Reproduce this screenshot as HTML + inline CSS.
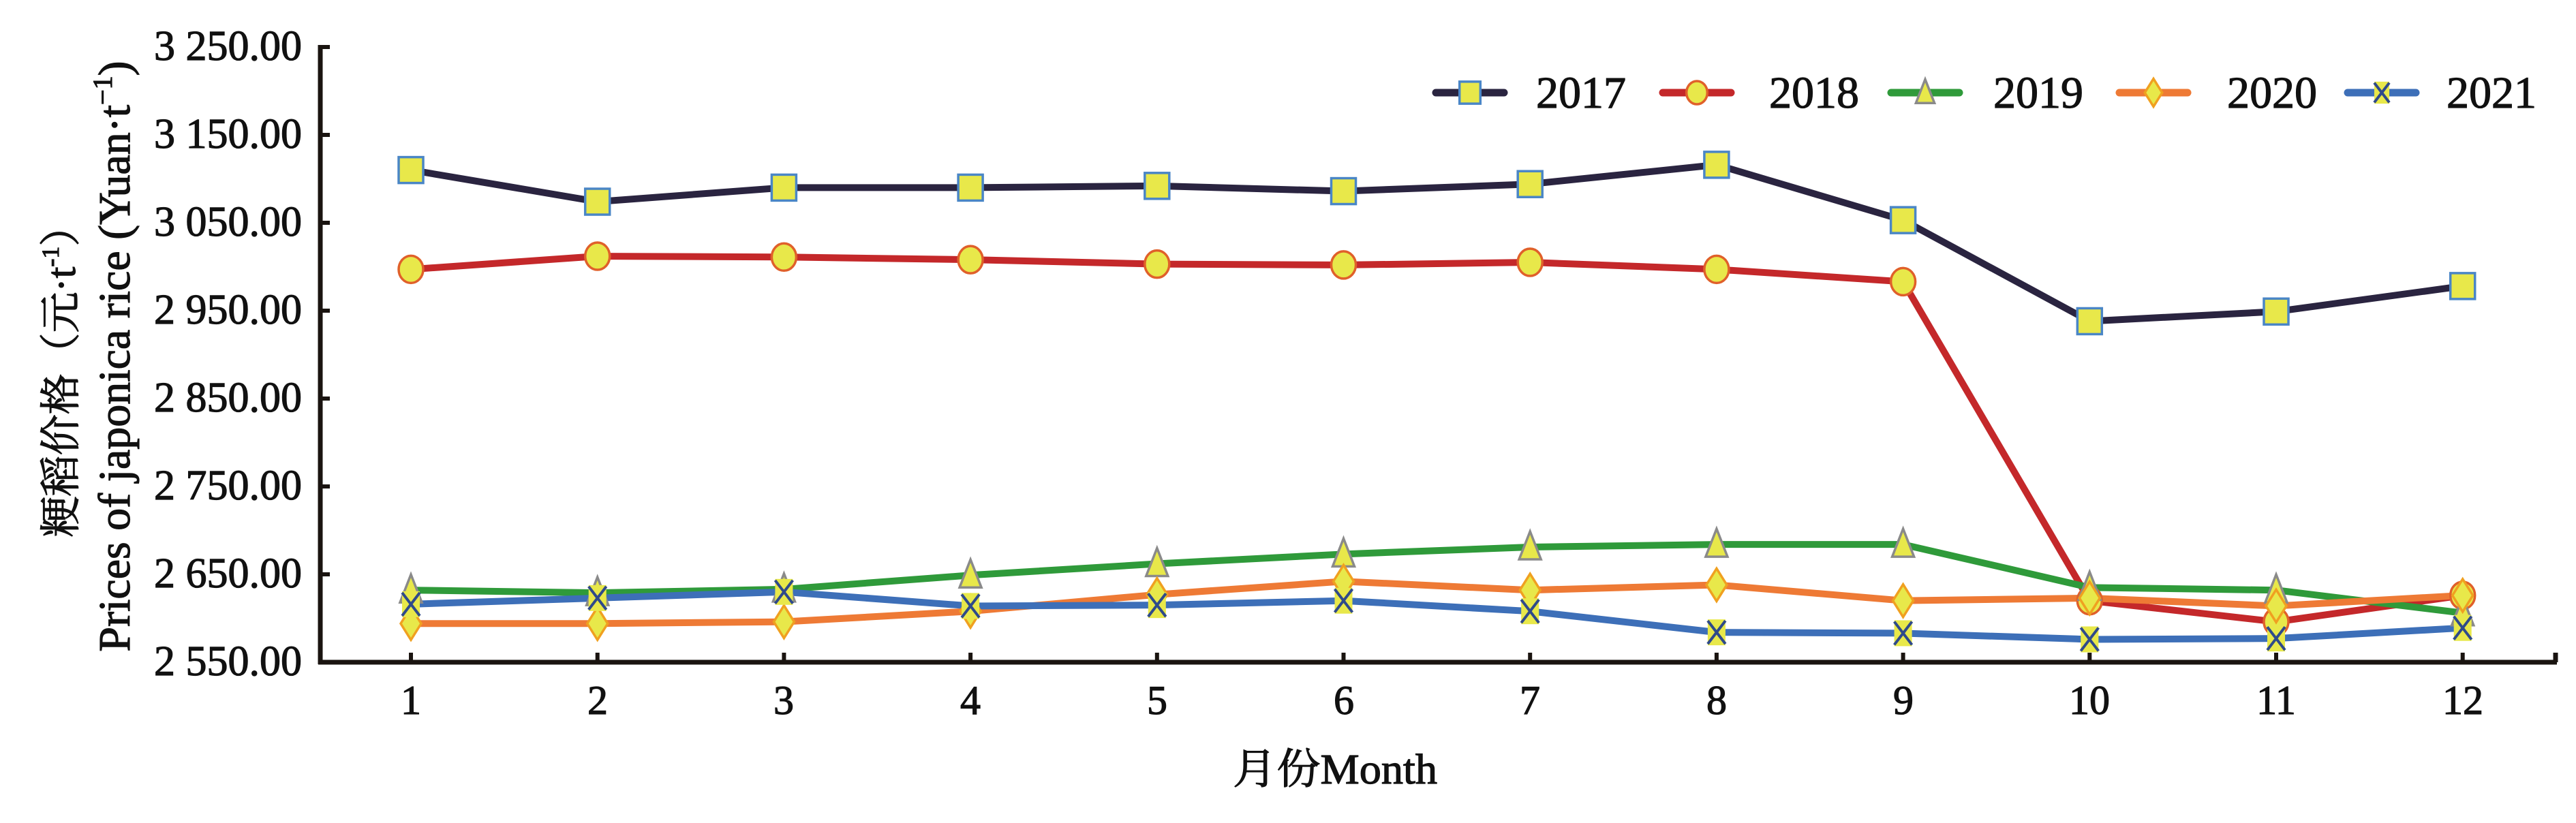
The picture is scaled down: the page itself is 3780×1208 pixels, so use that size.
<!DOCTYPE html>
<html><head><meta charset="utf-8">
<style>
html,body{margin:0;padding:0;background:#fff;}
svg{display:block;}
text{font-family:"Liberation Serif","Noto Serif CJK SC","Noto Sans CJK SC",serif;fill:#111;stroke:#111;stroke-width:1.2;}
</style></head>
<body>
<svg id="s" width="3780" height="1208" viewBox="0 0 3780 1208" xmlns="http://www.w3.org/2000/svg">
<rect width="3780" height="1208" fill="#fff"/>
<g stroke="#1a1410" stroke-width="7" fill="none">
<line x1="470" y1="66" x2="470" y2="975"/>
<line x1="467" y1="972" x2="3752" y2="972"/>
<line x1="3750" y1="972" x2="3750" y2="958"/>
</g>
<g stroke="#1a1410" stroke-width="6">
<line x1="470" y1="69" x2="484" y2="69"/>
<line x1="470" y1="198" x2="484" y2="198"/>
<line x1="470" y1="327" x2="484" y2="327"/>
<line x1="470" y1="456" x2="484" y2="456"/>
<line x1="470" y1="585" x2="484" y2="585"/>
<line x1="470" y1="714" x2="484" y2="714"/>
<line x1="470" y1="843" x2="484" y2="843"/>
</g>
<g stroke="#1a1410" stroke-width="6" id="xt"></g>
<g font-size="62" text-anchor="end">
<text x="443" y="88">3 250.00</text>
<text x="443" y="217">3 150.00</text>
<text x="443" y="346">3 050.00</text>
<text x="443" y="475">2 950.00</text>
<text x="443" y="604">2 850.00</text>
<text x="443" y="733">2 750.00</text>
<text x="443" y="862">2 650.00</text>
<text x="443" y="991">2 550.00</text>
</g>
<g font-size="60" text-anchor="middle">
<text x="603" y="1048">1</text>
<text x="877" y="1048">2</text>
<text x="1150" y="1048">3</text>
<text x="1424" y="1048">4</text>
<text x="1698" y="1048">5</text>
<text x="1972" y="1048">6</text>
<text x="2245" y="1048">7</text>
<text x="2519" y="1048">8</text>
<text x="2793" y="1048">9</text>
<text x="3066" y="1048">10</text>
<text x="3340" y="1048">11</text>
<text x="3614" y="1048">12</text>
</g>
<text x="1959" y="1150" font-size="62" text-anchor="middle" textLength="300" lengthAdjust="spacingAndGlyphs">月份Month</text>
<text transform="translate(110,545) rotate(-90)" font-size="60" text-anchor="middle">粳稻价格（元·t<tspan font-size="36" dy="-24">-1</tspan><tspan dy="24">）</tspan></text>
<text transform="translate(190,523) rotate(-90)" font-size="66" text-anchor="middle">Prices of japonica rice (Yuan·t<tspan font-size="40" dy="-26">−1</tspan><tspan dy="26">)</tspan></text>
<g id="series"></g>
<g id="legend"></g>
<g font-size="66">
<text x="2254" y="158">2017</text>
<text x="2596" y="158">2018</text>
<text x="2925" y="158">2019</text>
<text x="3268" y="158">2020</text>
<text x="3590" y="158">2021</text>
</g>
</svg>
<script>
var NS="http://www.w3.org/2000/svg";
function el(p,t,a){var e=document.createElementNS(NS,t);for(var k in a)e.setAttribute(k,a[k]);p.appendChild(e);return e;}
function X(m){return 603+(m-1)*273.7;}
function Y(v){return 972-(v-2550)*1.290;}
var xt=document.getElementById('xt');
for(var m=1;m<=12;m++)el(xt,'line',{x1:X(m),y1:972,x2:X(m),y2:958});
var data=[
{c:"#2a2440",mk:"sq",d:[3110,3074,3090,3090,3092,3086,3094,3116,3053,2938,2949,2978]},
{c:"#c4282a",mk:"ci",d:[2997,3012,3011,3008,3003,3002,3005,2997,2983,2620,2596,2626]},
{c:"#2f9a3a",mk:"tr",d:[2632,2629,2633,2649,2662,2673,2681,2684,2684,2635,2632,2606]},
{c:"#ee7a35",mk:"di",d:[2594,2594,2596,2608,2627,2642,2632,2638,2620,2623,2614,2626]},
{c:"#3d6fb8",mk:"x",d:[2616,2623,2630,2614,2615,2620,2608,2584,2583,2576,2577,2589]}
];
var Yf="#e8e84a";
function marker(g,t,x,y,s){
 s=s||1;
 if(t=="sq")el(g,'rect',{x:x-18*s,y:y-19*s,width:36*s,height:38*s,fill:Yf,stroke:"#4a86c6","stroke-width":3.5});
 if(t=="ci")el(g,'ellipse',{cx:x,cy:y,rx:18*s,ry:20*s,fill:Yf,stroke:"#e0602a","stroke-width":3.5});
 if(t=="tr")el(g,'polygon',{points:(x)+","+(y-23*s)+" "+(x+16*s)+","+(y+18*s)+" "+(x-16*s)+","+(y+18*s),fill:Yf,stroke:"#8a8a8a","stroke-width":3.5});
 if(t=="di")el(g,'polygon',{points:(x)+","+(y-24*s)+" "+(x+15*s)+","+y+" "+x+","+(y+24*s)+" "+(x-15*s)+","+y,fill:Yf,stroke:"#f0a020","stroke-width":3.5});
 if(t=="x"){el(g,'rect',{x:x-13*s,y:y-19*s,width:26*s,height:38*s,fill:Yf});
  el(g,'path',{d:"M"+(x-13*s)+","+(y-17*s)+"L"+(x+13*s)+","+(y+17*s)+"M"+(x+13*s)+","+(y-17*s)+"L"+(x-13*s)+","+(y+17*s),stroke:"#2f4a8a","stroke-width":4,fill:"none"});}
}
var sg=document.getElementById('series');
data.forEach(function(s){
 var p=s.d.map(function(v,i){return X(i+1)+","+Y(v);}).join(" ");
 el(sg,'polyline',{points:p,fill:"none",stroke:s.c,"stroke-width":10,"stroke-linejoin":"round"});
});
data.forEach(function(s){s.d.forEach(function(v,i){marker(sg,s.mk,X(i+1),Y(v));});});
var lg=document.getElementById('legend');
var lx=[2107,2440,2775,3110,3445];
data.forEach(function(s,i){
 el(lg,'line',{x1:lx[i],y1:136,x2:lx[i]+100,y2:136,stroke:s.c,"stroke-width":11,"stroke-linecap":"round"});
 marker(lg,s.mk,lx[i]+50,136,0.85);
});
</script>
</body></html>
